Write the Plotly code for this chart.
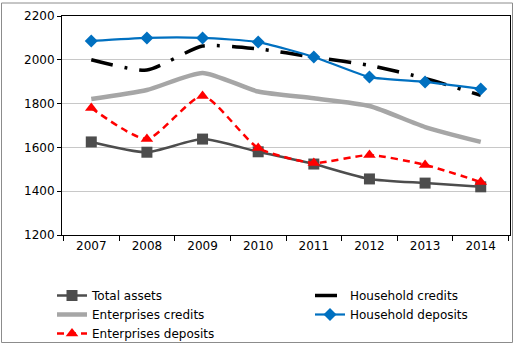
import plotly.graph_objects as go

years = ["2007", "2008", "2009", "2010", "2011", "2012", "2013", "2014"]
total_assets = [1625, 1578, 1638, 1580, 1524, 1456, 1437, 1420]
household_credits = [2000, 1953, 2063, 2050, 2012, 1975, 1915, 1838]
enterprises_credits = [1821, 1862, 1940, 1855, 1824, 1789, 1693, 1625]
household_deposits = [2086, 2100, 2100, 2081, 2013, 1921, 1899, 1867]
enterprises_deposits = [1780, 1638, 1835, 1597, 1529, 1565, 1520, 1442]

fig = go.Figure()
fig.add_trace(go.Scatter(x=years, y=total_assets, name="Total assets", mode="lines+markers",
                         legend="legend",
                         line=dict(color="#4d4d4d", width=2.5, shape="spline", smoothing=0.6),
                         marker=dict(symbol="square", size=11, color="#4d4d4d")))
fig.add_trace(go.Scatter(x=years, y=household_credits, name="Household credits", mode="lines",
                         legend="legend2",
                         line=dict(color="#000000", width=3.5, shape="spline", smoothing=0.6,
                                   dash="22px,12px,3px,12px")))
fig.add_trace(go.Scatter(x=years, y=enterprises_credits, name="Enterprises credits", mode="lines",
                         legend="legend",
                         line=dict(color="#a6a6a6", width=4.5, shape="spline", smoothing=0.6)))
fig.add_trace(go.Scatter(x=years, y=household_deposits, name="Household deposits", mode="lines+markers",
                         legend="legend2",
                         line=dict(color="#0070c0", width=2.2, shape="spline", smoothing=0.5),
                         marker=dict(symbol="diamond", size=10, color="#0070c0")))
fig.add_trace(go.Scatter(x=years, y=enterprises_deposits, name="Enterprises deposits", mode="lines+markers",
                         legend="legend",
                         line=dict(color="#ff0000", width=2.5, shape="spline", smoothing=0.6, dash="7px,5px"),
                         marker=dict(symbol="triangle-up", size=11, color="#ff0000")))

L, R, T, B = 62, 4, 16, 109
W, H = 514, 344
pw, ph = W - L - R, H - T - B

leg_common = dict(orientation="v", yref="container", xref="container", y=1 - 281 / H,
                  xanchor="left", yanchor="top", font=dict(size=12), tracegroupgap=0,
                  itemwidth=30, bgcolor="rgba(0,0,0,0)", borderwidth=0)

fig.update_layout(
    width=W, height=H,
    margin=dict(l=L, r=R, t=T, b=B, autoexpand=False),
    paper_bgcolor="white", plot_bgcolor="white",
    font=dict(family="DejaVu Sans", size=12, color="#000000"),
    showlegend=True,
    legend=dict(x=52 / W, **leg_common),
    legend2=dict(x=310 / W, **leg_common),
    xaxis=dict(type="category", showgrid=False, showline=True, linecolor="#000000", linewidth=1,
               mirror=True, ticks="outside", tickson="boundaries", ticklen=5, tickcolor="#000000",
               tickfont=dict(size=12)),
    yaxis=dict(range=[1200, 2200], dtick=200, showgrid=True, gridcolor="#c8c8c8", gridwidth=1,
               showline=True, linecolor="#000000", linewidth=1, mirror=True,
               ticks="outside", ticklen=4, tickcolor="#000000", tickfont=dict(size=12),
               zeroline=False),
    shapes=[dict(type="rect", xref="paper", yref="paper",
                 x0=(1.5 - L) / pw, x1=(W - 1.5 - L) / pw,
                 y0=(T + ph - (H - 1.5)) / ph, y1=(T + ph - 3) / ph,
                 line=dict(color="#8c8c8c", width=1), layer="below")],
)

fig.write_html("out.html", config={"displayModeBar": False},
               post_script="document.body.style.margin='0';document.body.style.overflow='hidden';")
